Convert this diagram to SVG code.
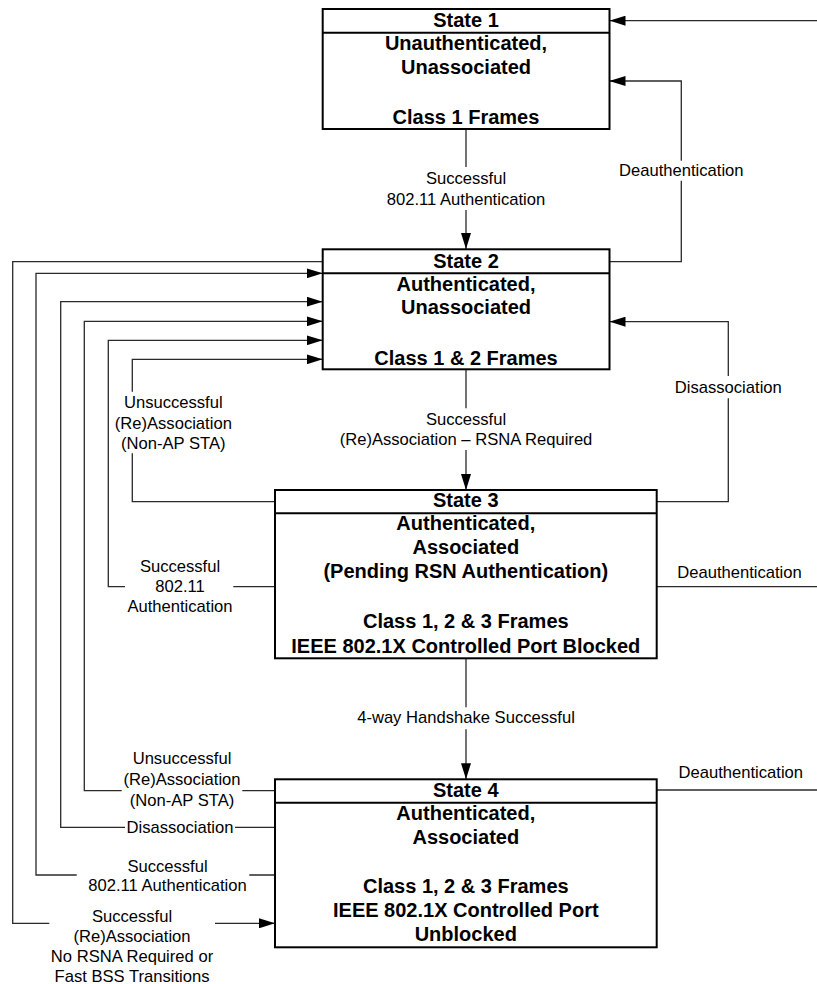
<svg xmlns="http://www.w3.org/2000/svg" width="817" height="984" viewBox="0 0 817 984">
  <style>
    .box { fill: #ffffff; stroke: #000000; stroke-width: 2; }
    .div { stroke: #000000; stroke-width: 2; }
    .st { font-family: "Liberation Sans", Arial, sans-serif; font-weight: bold; font-size: 20px; text-anchor: middle; fill: #000000; }
    .lb { font-family: "Liberation Sans", Arial, sans-serif; font-size: 16.6px; text-anchor: middle; fill: #000000; }
    .cn { fill: none; stroke: #2a2a2a; stroke-width: 1.3; }
    .ar { marker-end: url(#arrow); }
  </style>
  <defs>
    <marker id="arrow" markerUnits="userSpaceOnUse" markerWidth="16" markerHeight="10" refX="16" refY="5" orient="auto">
      <path d="M0,0 L16,5 L0,10 Z" fill="#000000"/>
    </marker>
  </defs>

  <!-- transitions -->
  <g id="connectors">
    <!-- incoming into State 1 from the right -->
    <path class="cn ar" d="M817,20.7 H609.5"/>
    <!-- State 1 to State 2 -->
    <path class="cn ar" d="M466,129 V167 M466,210 V249"/>
    <!-- State 2 to State 1 -->
    <path class="cn ar" d="M609.5,261.7 H681.3 V180.7 M681.3,160.7 V81 H609.5"/>
    <!-- State 2 to State 3 -->
    <path class="cn ar" d="M466,369.3 V408.3 M466,450 V490"/>
    <!-- State 3 to State 2, disassociation -->
    <path class="cn ar" d="M656.7,501.7 H728.3 V398.3 M728.3,376 V321.7 H609.5"/>
    <!-- State 3 to State 2, unsuccessful (re)association -->
    <path class="cn ar" d="M275,501.7 H132.3 V453.3 M132.3,391.7 V359.3 H322.7"/>
    <!-- State 3 to State 2, successful authentication -->
    <path class="cn ar" d="M275,586.7 H233.3 M125,586.7 H108.3 V340.3 H322.7"/>
    <!-- State 3 deauthentication -->
    <path class="cn" d="M656.7,586.7 H817"/>
    <!-- State 3 to State 4 -->
    <path class="cn ar" d="M466,658.3 V707.3 M466,729.3 V779.3"/>
    <!-- State 4 deauthentication -->
    <path class="cn" d="M656.7,790 H817"/>
    <!-- State 4 to State 2, unsuccessful (re)association -->
    <path class="cn ar" d="M275,790.7 H242.3 M121.7,790.7 H84.3 V321.3 H322.7"/>
    <!-- State 4 to State 2, disassociation -->
    <path class="cn ar" d="M275,827.3 H235 M125,827.3 H60.7 V301.7 H322.7"/>
    <!-- State 4 to State 2, successful authentication -->
    <path class="cn ar" d="M275,875 H249.3 M76.7,875 H36 V273.3 H322.7"/>
    <!-- State 2 to State 4, (re)association without RSNA -->
    <path class="cn ar" d="M322.7,261.7 H12.7 V923.3 H49.3 M215,923.3 H275"/>

    <text class="lb" x="466" y="184.3">Successful</text>
    <text class="lb" x="466" y="205">802.11 Authentication</text>
    <text class="lb" x="681.3" y="176">Deauthentication</text>
    <text class="lb" x="466" y="425">Successful</text>
    <text class="lb" x="466" y="445">(Re)Association – RSNA Required</text>
    <text class="lb" x="728.3" y="392.7">Disassociation</text>
    <text class="lb" x="173.3" y="408.3">Unsuccessful</text>
    <text class="lb" x="173.3" y="429">(Re)Association</text>
    <text class="lb" x="173.3" y="449">(Non-AP STA)</text>
    <text class="lb" x="180" y="571.5">Successful</text>
    <text class="lb" x="180" y="592">802.11</text>
    <text class="lb" x="180" y="611.7">Authentication</text>
    <text class="lb" x="739.5" y="577.7">Deauthentication</text>
    <text class="lb" x="466" y="723.3">4-way Handshake Successful</text>
    <text class="lb" x="740.8" y="778.3">Deauthentication</text>
    <text class="lb" x="182" y="764.3">Unsuccessful</text>
    <text class="lb" x="182" y="785">(Re)Association</text>
    <text class="lb" x="182" y="806">(Non-AP STA)</text>
    <text class="lb" x="180" y="832.7">Disassociation</text>
    <text class="lb" x="167.5" y="871.7">Successful</text>
    <text class="lb" x="167.5" y="890.7">802.11 Authentication</text>
    <text class="lb" x="132" y="922.3">Successful</text>
    <text class="lb" x="132" y="941.7">(Re)Association</text>
    <text class="lb" x="132" y="962.3">No RSNA Required or</text>
    <text class="lb" x="132" y="981.7">Fast BSS Transitions</text>
  </g>

  <g id="state1">
    <rect class="box" x="322.7" y="9" width="286.8" height="120"/>
    <line class="div" x1="322.7" y1="32.7" x2="609.5" y2="32.7"/>
    <text class="st" x="466" y="26.7">State 1</text>
    <text class="st" x="466" y="50">Unauthenticated,</text>
    <text class="st" x="466" y="74">Unassociated</text>
    <text class="st" x="466" y="124">Class 1 Frames</text>
  </g>

  <g id="state2">
    <rect class="box" x="322.7" y="249.3" width="286.8" height="120"/>
    <line class="div" x1="322.7" y1="273.3" x2="609.5" y2="273.3"/>
    <text class="st" x="466" y="267.7">State 2</text>
    <text class="st" x="466" y="290.7">Authenticated,</text>
    <text class="st" x="466" y="314.3">Unassociated</text>
    <text class="st" x="466" y="365">Class 1 &amp; 2 Frames</text>
  </g>

  <g id="state3">
    <rect class="box" x="275" y="490" width="381.7" height="168.3"/>
    <line class="div" x1="275" y1="513.3" x2="656.7" y2="513.3"/>
    <text class="st" x="465.8" y="507.3">State 3</text>
    <text class="st" x="465.8" y="530">Authenticated,</text>
    <text class="st" x="465.8" y="554">Associated</text>
    <text class="st" x="465.8" y="578">(Pending RSN Authentication)</text>
    <text class="st" x="465.8" y="628.3">Class 1, 2 &amp; 3 Frames</text>
    <text class="st" x="465.8" y="653.3">IEEE 802.1X Controlled Port Blocked</text>
  </g>

  <g id="state4">
    <rect class="box" x="275" y="779.3" width="381.7" height="168"/>
    <line class="div" x1="275" y1="802.7" x2="656.7" y2="802.7"/>
    <text class="st" x="465.8" y="797.3">State 4</text>
    <text class="st" x="465.8" y="820">Authenticated,</text>
    <text class="st" x="465.8" y="844">Associated</text>
    <text class="st" x="465.8" y="893.3">Class 1, 2 &amp; 3 Frames</text>
    <text class="st" x="465.8" y="916.7">IEEE 802.1X Controlled Port</text>
    <text class="st" x="465.8" y="940.7">Unblocked</text>
  </g>
</svg>
